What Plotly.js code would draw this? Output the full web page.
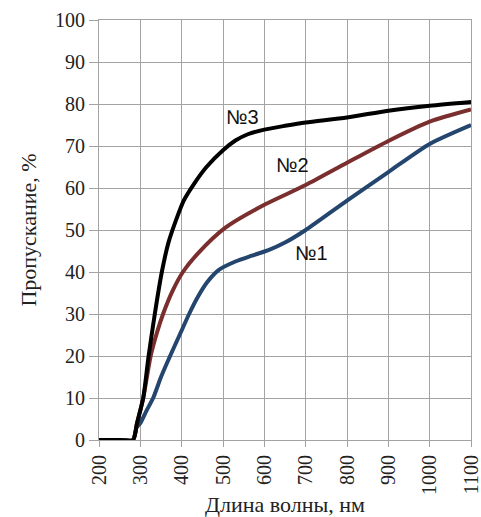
<!DOCTYPE html>
<html>
<head>
<meta charset="utf-8">
<script src="https://cdn.plot.ly/plotly-3.0.1.min.js"></script>
<style>html,body{margin:0;padding:0;background:#fff;}#chart{width:481px;height:517px;}</style>
</head>
<body>
<div id="chart"></div>
<script>
// Wavelength (nm) and transmittance (%)
const wl3 = [200, 250, 282, 292, 307, 320, 335, 352, 368, 385, 405, 430, 460, 500, 530, 560, 600, 650, 700, 800, 900, 1000, 1100];
const t3  = [0, 0, 0, 4, 10, 20, 30, 40, 47, 52, 57, 61, 65, 69, 71.3, 72.8, 73.9, 74.8, 75.6, 76.8, 78.4, 79.6, 80.5];

const wl2 = [200, 250, 282, 292, 307, 325, 340, 355, 378, 403, 440, 505, 600, 700, 800, 900, 1000, 1100];
const t2  = [0, 0, 0, 4, 10, 20, 25.5, 30, 35.5, 40, 44.5, 50.5, 56, 60.7, 66, 71.2, 75.8, 78.7];

const wl1 = [200, 250, 282, 291, 300, 315, 331, 350, 372, 395, 418, 440, 462, 490, 530, 570, 610, 650, 700, 800, 900, 1000, 1100];
const t1  = [0, 0, 0, 3, 4, 7, 10, 15, 20, 25, 30, 34.2, 37.6, 40.5, 42.5, 43.9, 45.2, 47, 50, 57, 63.8, 70.5, 75];

const labels = ["№1", "№2", "№3"];
const labelX = [713, 669, 548];
const labelY = [44.5, 65.5, 77];

const xTicks = [200, 300, 400, 500, 600, 700, 800, 900, 1000, 1100];
const yTicks = [0, 10, 20, 30, 40, 50, 60, 70, 80, 90, 100];

const colors = ["#24466e", "#7a2e2e", "#000000"];
const series = [[wl1, t1], [wl2, t2], [wl3, t3]];

const traces = series.map((s, i) => ({
  x: s[0], y: s[1], mode: "lines", type: "scatter", name: labels[i],
  line: {color: colors[i], width: 4, shape: "spline", smoothing: 0.7},
  hoverinfo: "skip"
}));

const gridC = "#a3a3a3";
const layout = {
  width: 481, height: 517,
  margin: {l: 99, r: 10, t: 20, b: 77},
  paper_bgcolor: "#fff", plot_bgcolor: "#fff",
  showlegend: false,
  font: {family: "Liberation Serif, Times New Roman, serif", color: "#222"},
  xaxis: {
    range: [200, 1100], tickvals: xTicks, ticktext: xTicks.map(String),
    tickangle: -90, tickfont: {size: 20, family: "Liberation Serif"},
    ticklabeloverflow: "allow",
    ticks: "outside", ticklen: 6, tickcolor: gridC,
    showgrid: true, gridcolor: gridC, gridwidth: 1,
    showline: true, linecolor: gridC, mirror: true, zeroline: false,
    title: {text: "Длина волны, нм", font: {size: 22, family: "Liberation Serif"}, standoff: 2}
  },
  yaxis: {
    range: [0, 100], tickvals: yTicks, ticktext: yTicks.map(String),
    tickfont: {size: 20, family: "Liberation Serif"},
    ticks: "outside", ticklen: 9, tickcolor: gridC,
    showgrid: true, gridcolor: gridC, gridwidth: 1,
    showline: true, linecolor: gridC, mirror: true, zeroline: false,
    title: {text: "Пропускание, %", font: {size: 22, family: "Liberation Serif"}, standoff: 12}
  },
  annotations: labels.map((t, i) => ({
    x: labelX[i], y: labelY[i], xref: "x", yref: "y", text: t, showarrow: false,
    font: {size: 20, family: "Liberation Sans, Arial, sans-serif", color: "#111"}
  }))
};

Plotly.newPlot("chart", traces, layout, {staticPlot: true, displayModeBar: false});
</script>
</body>
</html>
